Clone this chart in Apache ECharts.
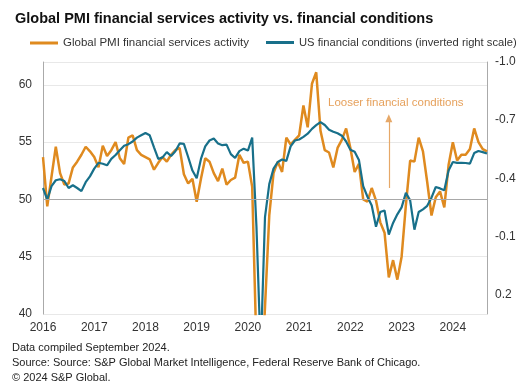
<!DOCTYPE html>
<html><head><meta charset="utf-8">
<script src="https://cdn.jsdelivr.net/npm/echarts@6/dist/echarts.min.js"></script>
<style>html,body{margin:0;padding:0;background:#fff}#c{width:525px;height:387px}</style>
</head><body><div id="c"></div>
<script>
const years = [2016, 2017, 2018, 2019, 2020, 2021, 2022, 2023, 2024];
const lastYearMonths = 9;
const months = [];
years.forEach(y => {
  const n = y === 2024 ? lastYearMonths : 12;
  for (let m = 1; m <= n; m++) months.push(y + '-' + (m < 10 ? '0' + m : m));
});

const pmiLabel = 'Global PMI financial services activity';
const nfciLabel = 'US financial conditions (inverted right scale)';

const pmi = [
  53.7, 49.4, 52.0, 54.6, 52.3, 51.3, 51.4, 52.8, 53.3, 53.9, 54.6, 54.2,
  53.7, 52.8, 54.7, 53.8, 54.3, 55.0, 53.6, 53.1, 55.4, 55.6, 54.3, 53.9,
  53.7, 53.5, 52.6, 53.2, 53.7, 53.3, 53.9, 54.3, 54.5, 52.2, 51.4, 51.8,
  49.8, 51.8, 53.6, 53.3, 52.3, 51.6, 52.7, 51.3, 51.7, 51.9, 53.9, 53.2,
  53.3, 51.1, 37.0, 33.0, 40.6, 48.6, 52.3, 53.3, 52.4, 55.4, 54.8, 55.2,
  55.6, 58.2, 56.3, 60.1, 61.1, 56.0, 54.3, 54.1, 52.8, 54.5, 55.2, 56.2,
  54.5, 52.4, 53.1, 50.0, 49.8, 51.0, 49.9, 48.0, 47.1, 43.2, 44.7, 43.0,
  45.0, 49.5, 53.4, 53.3, 55.4, 54.2, 51.5, 48.6, 50.2, 50.7, 49.3, 53.0,
  55.0, 53.4, 53.9, 53.9, 54.4, 56.2, 55.0, 54.4, 54.2
];

const nfci = [
  -0.35, -0.29, -0.36, -0.39, -0.395, -0.386, -0.35, -0.364, -0.35, -0.334, -0.38, -0.41,
  -0.45, -0.48, -0.475, -0.467, -0.50, -0.52, -0.545, -0.568, -0.576, -0.59, -0.61, -0.622,
  -0.634, -0.622, -0.56, -0.50, -0.508, -0.535, -0.515, -0.54, -0.58, -0.578, -0.51, -0.44,
  -0.40, -0.50, -0.565, -0.595, -0.605, -0.58, -0.571, -0.574, -0.525, -0.505, -0.54, -0.553,
  -0.543, -0.61, -0.15, 0.50, -0.20, -0.37, -0.45, -0.484, -0.497, -0.49, -0.565, -0.595,
  -0.60, -0.614, -0.63, -0.655, -0.674, -0.69, -0.675, -0.65, -0.64, -0.632, -0.62, -0.59,
  -0.547, -0.537, -0.495, -0.36, -0.305, -0.26, -0.15, -0.226, -0.234, -0.11, -0.17, -0.214,
  -0.25, -0.325, -0.286, -0.135, -0.226, -0.24, -0.258, -0.30, -0.355, -0.348, -0.338, -0.44,
  -0.484, -0.48, -0.48, -0.479, -0.476, -0.53, -0.541, -0.535, -0.528
];

const leftAxis = { min: 40, max: 62, step: 5 };
const rightAxis = { min: -1.0, max: 0.3, step: 0.3 };
const baselineValue = 50;
const arrowMonth = '2022-10';
const arrowFrom = 51.0, arrowTo = 57.1;

const footer = [
  'Data compiled September 2024.',
  'Source: Source: S&P Global Market Intelligence, Federal Reserve Bank of Chicago.',
  '\u00A9 2024 S&P Global.'
];

const ORANGE = '#DF8A1F';
const TEAL = '#18708A';
const FONT = "'Liberation Sans', Arial, sans-serif";

const chart = echarts.init(document.getElementById('c'), null, { renderer: 'canvas' });
chart.setOption({
  animation: false,
  textStyle: { fontFamily: FONT },
  title: {
    text: 'Global PMI financial services activity vs. financial conditions',
    left: 10, top: 6,
    textStyle: { fontFamily: FONT, fontWeight: 'bold', fontSize: 14.5, color: '#111' }
  },
  legend: [
    {
      top: 32, left: 25, itemWidth: 28, itemHeight: 3, icon: 'rect',
      textStyle: { fontFamily: FONT, fontSize: 11.5, color: '#333' },
      data: [pmiLabel]
    },
    {
      top: 32, left: 261, itemWidth: 28, itemHeight: 3, icon: 'rect',
      textStyle: { fontFamily: FONT, fontSize: 11.2, color: '#333' },
      data: [nfciLabel]
    }
  ],
  grid: { left: 43, right: 38, top: 62, bottom: 73 },
  xAxis: {
    type: 'category', data: months, boundaryGap: false,
    axisLine: { show: false }, axisTick: { show: false },
    axisLabel: {
      interval: (i) => i % 12 === 0,
      formatter: (v) => v.slice(0, 4),
      color: '#333', fontSize: 12, margin: 8, fontFamily: FONT
    },
    splitLine: { show: false }
  },
  yAxis: [
    {
      type: 'value', min: leftAxis.min, max: leftAxis.max, interval: leftAxis.step, position: 'left',
      axisLine: { show: true, lineStyle: { color: '#aaa', width: 1 } },
      axisTick: { show: false },
      axisLabel: { showMaxLabel: false, color: '#333', fontSize: 12, margin: 11, fontFamily: FONT },
      splitLine: { lineStyle: { color: '#e8e8e8', width: 1 } }
    },
    {
      type: 'value', min: rightAxis.min, max: rightAxis.max, interval: rightAxis.step,
      inverse: true, position: 'right',
      axisLine: { show: true, lineStyle: { color: '#aaa', width: 1 } },
      axisTick: { show: false },
      axisLabel: {
        showMaxLabel: false, color: '#333', fontSize: 12, margin: 8, fontFamily: FONT,
        formatter: (v) => (Math.round(v * 10) / 10).toFixed(1)
      },
      splitLine: { show: false }
    }
  ],
  series: [
    {
      name: pmiLabel, type: 'line', yAxisIndex: 0, data: pmi,
      showSymbol: false, symbol: 'none', smooth: false,
      lineStyle: { color: ORANGE, width: 2.5 }, itemStyle: { color: ORANGE },
      z: 3,
      markLine: {
        silent: true, symbol: 'none', animation: false,
        label: { show: false },
        data: [
          { yAxis: baselineValue, lineStyle: { color: '#a8a8a8', width: 1, type: 'solid' } },
          [
            { coord: [arrowMonth, arrowFrom], symbol: 'none' },
            { coord: [arrowMonth, arrowTo], symbol: 'triangle', symbolSize: [7, 8] }
          ]
        ],
        lineStyle: { color: '#E6A868', width: 1.2, type: 'solid' }
      }
    },
    {
      name: nfciLabel, type: 'line', yAxisIndex: 1, data: nfci,
      showSymbol: false, symbol: 'none', smooth: false,
      lineStyle: { color: TEAL, width: 2.2 }, itemStyle: { color: TEAL },
      z: 4
    }
  ],
  graphic: [
    { type: 'text', left: 328, top: 97, style: { text: 'Looser financial conditions', fill: '#E6A15C', font: '11.5px ' + FONT } },
    { type: 'text', left: 12, top: 342, style: { text: footer[0], fill: '#222', font: '11px ' + FONT } },
    { type: 'text', left: 12, top: 357, style: { text: footer[1], fill: '#222', font: '11px ' + FONT } },
    { type: 'text', left: 12, top: 372, style: { text: footer[2], fill: '#222', font: '11px ' + FONT } }
  ]
});
</script>
</body></html>
